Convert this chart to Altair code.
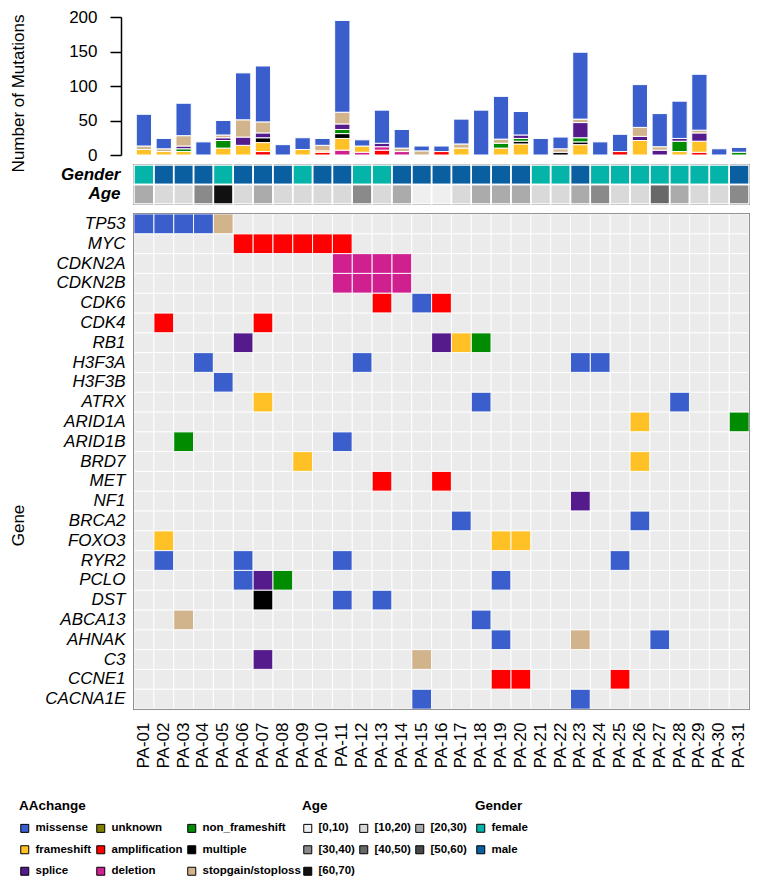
import altair as alt
import pandas as pd

samples = ["PA-01", "PA-02", "PA-03", "PA-04", "PA-05", "PA-06", "PA-07", "PA-08",
           "PA-09", "PA-10", "PA-11", "PA-12", "PA-13", "PA-14", "PA-15", "PA-16",
           "PA-17", "PA-18", "PA-19", "PA-20", "PA-21", "PA-22", "PA-23", "PA-24",
           "PA-25", "PA-26", "PA-27", "PA-28", "PA-29", "PA-30", "PA-31"]

genes = ["TP53", "MYC", "CDKN2A", "CDKN2B", "CDK6", "CDK4", "RB1", "H3F3A", "H3F3B",
         "ATRX", "ARID1A", "ARID1B", "BRD7", "MET", "NF1", "BRCA2", "FOXO3", "RYR2",
         "PCLO", "DST", "ABCA13", "AHNAK", "C3", "CCNE1", "CACNA1E"]

# legend order (row-major, 3 columns)
aa_types = ["missense", "unknown", "non_frameshift", "frameshift", "amplification",
            "multiple", "splice", "deletion", "stopgain/stoploss"]
aa_colors = ["#3a5fcd", "#7f7f00", "#008b00", "#ffc125", "#ff0000",
             "#000000", "#551a8b", "#d02090", "#d2b48c"]
# stacking order, bottom to top
stack_types = ["amplification", "deletion", "frameshift", "multiple",
               "non_frameshift", "splice", "stopgain/stoploss", "missense"]

n_amplification = [0, 0, 0, 0, 0, 0, 5, 0, 0, 4, 0, 0, 7, 0, 0, 5, 0, 0, 0, 0, 0, 0, 0, 0, 5, 0, 0, 0, 4, 0, 0]
n_deletion      = [0, 0, 0, 0, 0, 0, 0, 0, 0, 0, 7, 4, 5, 5, 0, 0, 0, 0, 0, 0, 0, 0, 0, 0, 0, 0, 0, 0, 0, 0, 0]
n_frameshift    = [8, 5, 5, 0, 10, 14, 13, 0, 8, 2, 17, 9, 0, 0, 0, 0, 10, 0, 10, 16, 0, 0, 15, 0, 0, 21, 0, 5, 16, 0, 0]
n_multiple      = [0, 0, 0, 0, 0, 0, 7, 0, 0, 0, 7, 0, 0, 0, 0, 0, 0, 0, 0, 4, 0, 4, 4, 0, 0, 0, 0, 0, 0, 0, 0]
n_nonframeshift = [0, 0, 4, 0, 11, 0, 0, 0, 0, 0, 6, 0, 0, 0, 0, 0, 0, 0, 7, 4, 0, 0, 6, 0, 0, 0, 0, 15, 0, 0, 4]
n_splice        = [0, 0, 4, 0, 4, 12, 7, 0, 0, 0, 8, 0, 5, 0, 0, 0, 0, 0, 0, 5, 0, 0, 22, 0, 0, 6, 7, 4, 12, 0, 0]
n_stopgain      = [5, 4, 15, 0, 4, 25, 16, 0, 0, 8, 17, 0, 0, 5, 6, 0, 6, 0, 6, 0, 0, 5, 5, 0, 0, 13, 5, 0, 4, 0, 0]
n_missense      = [46, 15, 47, 19, 21, 68, 81, 15, 17, 10, 133, 9, 48, 27, 7, 8, 36, 65, 62, 34, 24, 17, 97, 19, 25, 62, 48, 54, 81, 9, 7]

gender = ["female", "male", "male", "male", "female", "male", "male", "male", "female", "male",
          "male", "female", "female", "male", "male", "male", "male", "male", "male", "male",
          "female", "female", "male", "female", "female", "female", "female", "female", "female",
          "female", "male"]
age = ["[20,30)", "[10,20)", "[10,20)", "[30,40)", "[60,70)", "[10,20)", "[20,30)", "[10,20)",
       "[10,20)", "[10,20)", "[10,20)", "[30,40)", "[10,20)", "[20,30)", "[0,10)", "[0,10)",
       "[10,20)", "[20,30)", "[20,30)", "[20,30)", "[10,20)", "[10,20)", "[20,30)", "[30,40)",
       "[10,20)", "[10,20)", "[40,50)", "[20,30)", "[10,20)", "[10,20)", "[30,40)"]

age_groups = ["[0,10)", "[10,20)", "[20,30)", "[30,40)", "[40,50)", "[50,60)", "[60,70)"]
age_colors = ["#efefef", "#d9d9d9", "#ababab", "#8a8a8a", "#686868", "#474747", "#111111"]
gender_groups = ["female", "male"]
gender_colors = ["#04b4a8", "#0a5fa0"]

gene_mutations = {
    "TP53": [("PA-01", "missense"), ("PA-02", "missense"), ("PA-03", "missense"), ("PA-04", "missense"), ("PA-05", "stopgain/stoploss")],
    "MYC": [("PA-06", "amplification"), ("PA-07", "amplification"), ("PA-08", "amplification"), ("PA-09", "amplification"), ("PA-10", "amplification"), ("PA-11", "amplification")],
    "CDKN2A": [("PA-11", "deletion"), ("PA-12", "deletion"), ("PA-13", "deletion"), ("PA-14", "deletion")],
    "CDKN2B": [("PA-11", "deletion"), ("PA-12", "deletion"), ("PA-13", "deletion"), ("PA-14", "deletion")],
    "CDK6": [("PA-13", "amplification"), ("PA-15", "missense"), ("PA-16", "amplification")],
    "CDK4": [("PA-02", "amplification"), ("PA-07", "amplification")],
    "RB1": [("PA-06", "splice"), ("PA-16", "splice"), ("PA-17", "frameshift"), ("PA-18", "non_frameshift")],
    "H3F3A": [("PA-04", "missense"), ("PA-12", "missense"), ("PA-23", "missense"), ("PA-24", "missense")],
    "H3F3B": [("PA-05", "missense")],
    "ATRX": [("PA-07", "frameshift"), ("PA-18", "missense"), ("PA-28", "missense")],
    "ARID1A": [("PA-26", "frameshift"), ("PA-31", "non_frameshift")],
    "ARID1B": [("PA-03", "non_frameshift"), ("PA-11", "missense")],
    "BRD7": [("PA-09", "frameshift"), ("PA-26", "frameshift")],
    "MET": [("PA-13", "amplification"), ("PA-16", "amplification")],
    "NF1": [("PA-23", "splice")],
    "BRCA2": [("PA-17", "missense"), ("PA-26", "missense")],
    "FOXO3": [("PA-02", "frameshift"), ("PA-19", "frameshift"), ("PA-20", "frameshift")],
    "RYR2": [("PA-02", "missense"), ("PA-06", "missense"), ("PA-11", "missense"), ("PA-25", "missense")],
    "PCLO": [("PA-06", "missense"), ("PA-07", "splice"), ("PA-08", "non_frameshift"), ("PA-19", "missense")],
    "DST": [("PA-07", "multiple"), ("PA-11", "missense"), ("PA-13", "missense")],
    "ABCA13": [("PA-03", "stopgain/stoploss"), ("PA-18", "missense")],
    "AHNAK": [("PA-19", "missense"), ("PA-23", "stopgain/stoploss"), ("PA-27", "missense")],
    "C3": [("PA-07", "splice"), ("PA-15", "stopgain/stoploss")],
    "CCNE1": [("PA-19", "amplification"), ("PA-20", "amplification"), ("PA-25", "amplification")],
    "CACNA1E": [("PA-15", "missense"), ("PA-23", "missense")],
}

# ---------- tables ----------
counts = {
    "amplification": n_amplification, "deletion": n_deletion, "frameshift": n_frameshift,
    "multiple": n_multiple, "non_frameshift": n_nonframeshift, "splice": n_splice,
    "stopgain/stoploss": n_stopgain, "missense": n_missense,
}
bar_rows = []
for k, t in enumerate(stack_types):
    for s, v in zip(samples, counts[t]):
        if v > 0:
            bar_rows.append({"sample": s, "type": t, "count": v, "ord": k})
bar_df = pd.DataFrame(bar_rows)

annot_df = pd.DataFrame(
    [{"sample": s, "row": "Gender", "value": g} for s, g in zip(samples, gender)]
    + [{"sample": s, "row": "Age", "value": a} for s, a in zip(samples, age)]
)
grid_df = pd.DataFrame([{"sample": s, "gene": g} for g in genes for s in samples])
mut_df = pd.DataFrame([{"sample": s, "gene": g, "type": t}
                       for g in genes for (s, t) in gene_mutations[g]])

FONT = "Liberation Sans"
W = 615

legend_common = dict(
    orient="none", direction="horizontal", symbolType="square", symbolSize=64,
    symbolStrokeColor="black", symbolStrokeWidth=1, labelFont=FONT, labelFontSize=11.5,
    labelFontWeight="bold", titleFont=FONT, titleFontSize=13.5, titleFontWeight="bold",
    labelColor="black", titleColor="black", columnPadding=2, rowPadding=8.5, labelOffset=5,
    titlePadding=10, padding=0, labelLimit=200,
)

# ---------- bar chart ----------
bars = alt.Chart(bar_df).mark_bar(stroke="white", strokeWidth=1).encode(
    x=alt.X("sample:N", scale=alt.Scale(domain=samples, paddingInner=0.23, paddingOuter=0.115), axis=None),
    y=alt.Y("count:Q", stack="zero",
            scale=alt.Scale(domain=[0, 200], nice=False),
            axis=alt.Axis(values=[0, 50, 100, 150, 200], offset=13, grid=False,
                          domainColor="black", tickColor="black", domainWidth=1.5, tickWidth=1.5,
                          tickSize=11, labelPadding=13, labelFontSize=17, labelColor="black",
                          title="Number of Mutations", titleFontSize=17, titleFontWeight="normal",
                          titleColor="black", titleAngle=270, titleX=-98, titleY=76,
                          titleAlign="center", titleBaseline="alphabetic")),
    color=alt.Color("type:N", scale=alt.Scale(domain=aa_types, range=aa_colors), legend=None),
    order=alt.Order("ord:Q", sort="ascending"),
).properties(width=W, height=138)

# ---------- annotation rows ----------
ax = alt.X("sample:N", scale=alt.Scale(domain=samples, paddingInner=0, paddingOuter=0), axis=None)
ay = alt.Y("row:N", scale=alt.Scale(domain=["Gender", "Age"], paddingInner=0, paddingOuter=0),
           axis=alt.Axis(title=None, ticks=False, domain=False, labelFontSize=17,
                         labelFontWeight="bold", labelFontStyle="italic", labelColor="black",
                         labelPadding=14))
g_layer = alt.Chart(annot_df).transform_filter(alt.datum.row == "Gender").mark_rect().encode(
    x=ax, y=ay,
    fill=alt.Fill("value:N", scale=alt.Scale(domain=gender_groups, range=gender_colors),
                  legend=alt.Legend(title="Gender", columns=1, legendX=341, legendY=634, **legend_common)),
)
a_layer = alt.Chart(annot_df).transform_filter(alt.datum.row == "Age").mark_rect().encode(
    x=ax, y=ay,
    color=alt.Color("value:N", scale=alt.Scale(domain=age_groups, range=age_colors),
                    legend=alt.Legend(title="Age", columns=3, legendX=168, legendY=634, **legend_common)),
)
a_grid = alt.Chart(annot_df).mark_rect(fill="transparent", stroke="white", strokeWidth=1.5).encode(x=ax, y=ay)
annot = alt.layer(g_layer, a_layer, a_grid).properties(
    width=W, height=39, view=alt.ViewBackground(stroke="#222222", strokeWidth=2))

# ---------- heatmap ----------
hx = alt.X("sample:N", scale=alt.Scale(domain=samples, paddingInner=0, paddingOuter=0),
           axis=alt.Axis(title=None, labelAngle=270, labelPadding=13, ticks=False, domain=False,
                         labelFontSize=17, labelColor="black"))
hy = alt.Y("gene:N", scale=alt.Scale(domain=genes, paddingInner=0, paddingOuter=0),
           axis=alt.Axis(title="Gene", ticks=False, domain=False, labelFontSize=17,
                         labelFontStyle="italic", labelColor="black", labelPadding=9,
                         titleFontSize=17, titleFontWeight="normal", titleColor="black",
                         titleAngle=270, titleX=-111, titleY=311, titleAlign="center",
                         titleBaseline="alphabetic"))
bg = alt.Chart(grid_df).mark_rect(color="#ebebeb").encode(x=hx, y=hy)
mut = alt.Chart(mut_df).mark_rect().encode(
    x=hx, y=hy,
    color=alt.Color("type:N", scale=alt.Scale(domain=aa_types, range=aa_colors),
                    legend=alt.Legend(title="AAchange", columns=3, legendX=-115, legendY=585, **legend_common)),
)
hgrid = alt.Chart(grid_df).mark_rect(fill="transparent", stroke="white", strokeWidth=1,
                                     strokeOpacity=0.7).encode(x=hx, y=hy)
heat = alt.layer(bg, mut, hgrid).properties(
    width=W, height=495, view=alt.ViewBackground(stroke="#222222", strokeWidth=1.5))

chart = alt.vconcat(bars, annot, heat, spacing=10, bounds="flush").resolve_scale(
    x="independent", y="independent", color="independent", fill="independent"
).properties(padding=0).configure(font=FONT).configure_view(stroke=None)

chart.save("out.html", embed_options={"renderer": "svg", "actions": False})
